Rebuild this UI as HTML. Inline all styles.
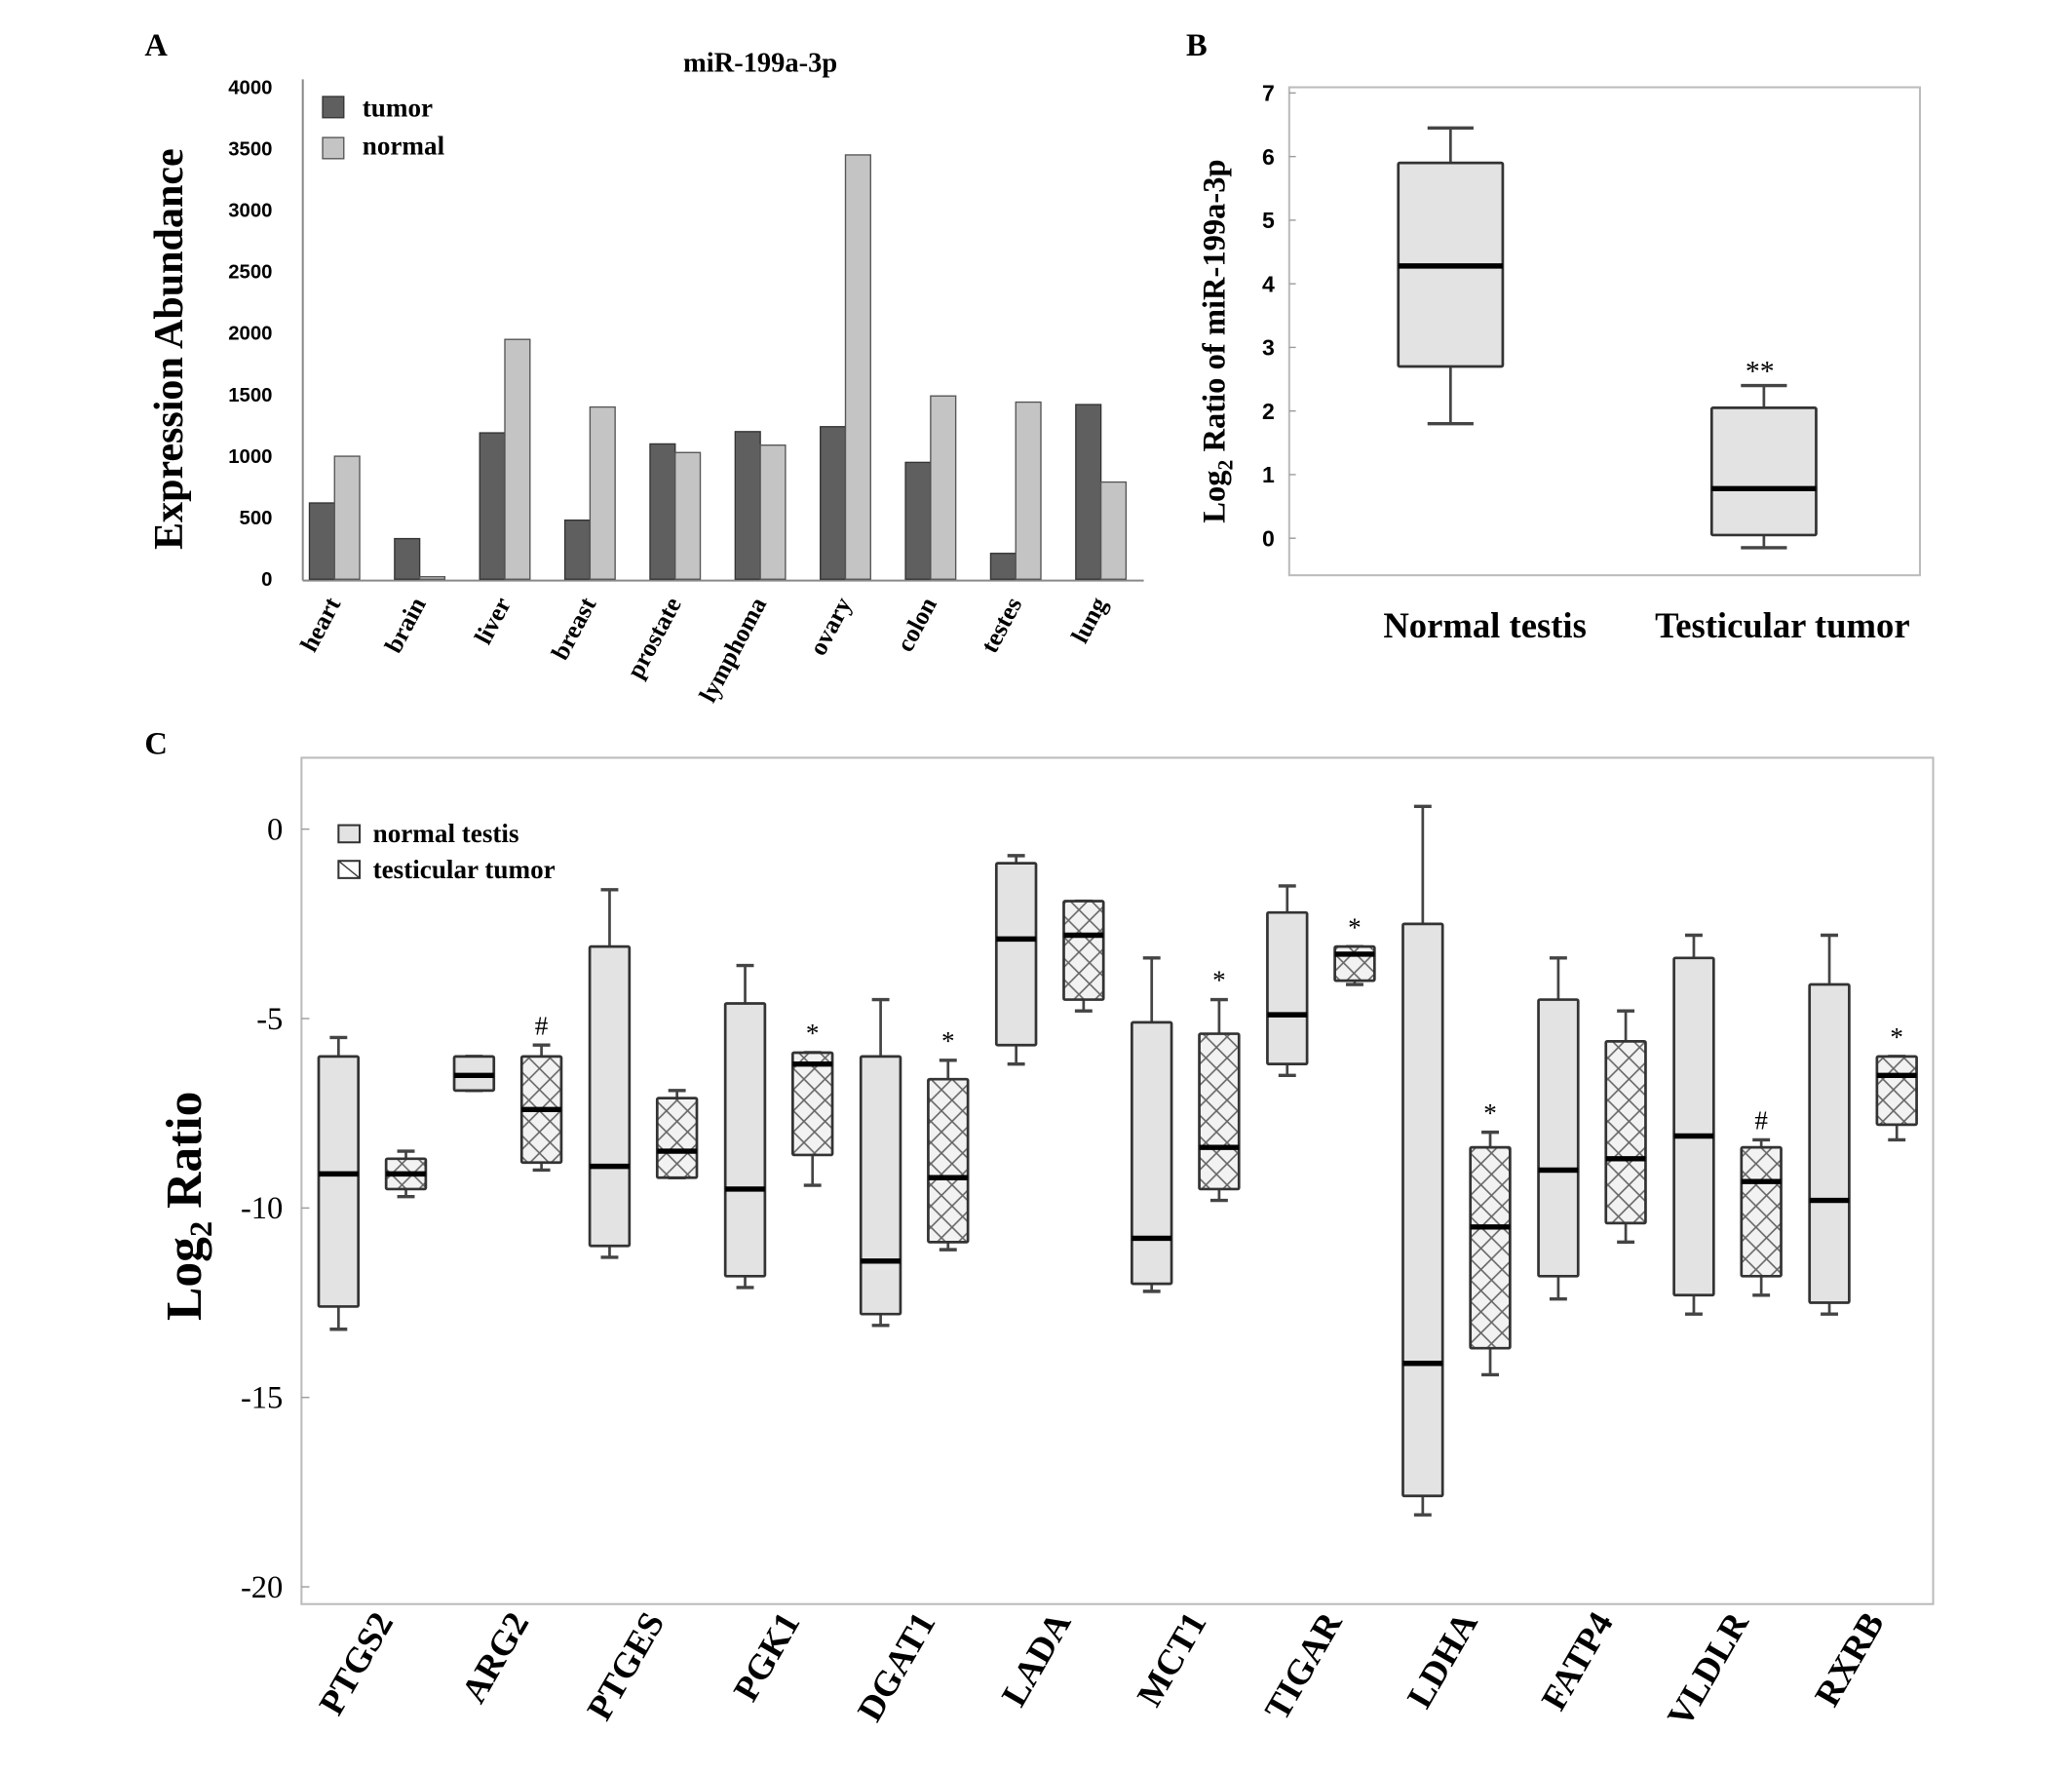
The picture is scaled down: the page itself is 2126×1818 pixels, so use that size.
<!DOCTYPE html>
<html><head><meta charset="utf-8"><style>
html,body{margin:0;padding:0;background:#fff;}
svg{display:block;font-family:"Liberation Serif",serif;}
</style></head><body>
<svg id="fig" width="2126" height="1818" viewBox="0 0 1567 1340">
<defs>
<pattern id="hatch" width="16" height="16" patternUnits="userSpaceOnUse">
<rect width="16" height="16" fill="#f2f2f2"/>
<path d="M0,0 L16,16 M16,0 L0,16" stroke="#666" stroke-width="1.2"/>
</pattern>
</defs>
<g id="A"></g>
<g id="B"></g>
<g id="C"></g>
</svg>
<script>
// Panel A data
const aCategories=["heart","brain","liver","breast","prostate","lymphoma","ovary","colon","testes","lung"];
const aTumor=[620,330,1190,480,1100,1200,1240,950,210,1420];
const aNormal=[1000,20,1950,1400,1030,1090,3450,1490,1440,790];
const aTicks=[0,500,1000,1500,2000,2500,3000,3500,4000];
// Panel B data
const bCategories=["Normal testis","Testicular tumor"];
const bStats=[[1.8,2.7,4.28,5.9,6.45],[-0.15,0.05,0.78,2.05,2.4]];
const bTicks=[0,1,2,3,4,5,6,7];
// Panel C data
const cGenes=["PTGS2","ARG2","PTGES","PGK1","DGAT1","LADA","MCT1","TIGAR","LDHA","FATP4","VLDLR","RXRB"];
const cNormal=[[-13.2,-12.6,-9.1,-6.0,-5.5],[-6.9,-6.9,-6.5,-6.0,-6.0],[-11.3,-11.0,-8.9,-3.1,-1.6],[-12.1,-11.8,-9.5,-4.6,-3.6],[-13.1,-12.8,-11.4,-6.0,-4.5],[-6.2,-5.7,-2.9,-0.9,-0.7],[-12.2,-12.0,-10.8,-5.1,-3.4],[-6.5,-6.2,-4.9,-2.2,-1.5],[-18.1,-17.6,-14.1,-2.5,0.6],[-12.4,-11.8,-9.0,-4.5,-3.4],[-12.8,-12.3,-8.1,-3.4,-2.8],[-12.8,-12.5,-9.8,-4.1,-2.8]];
const cTumor=[[-9.7,-9.5,-9.1,-8.7,-8.5],[-9.0,-8.8,-7.4,-6.0,-5.7],[-9.2,-9.2,-8.5,-7.1,-6.9],[-9.4,-8.6,-6.2,-5.9,-5.9],[-11.1,-10.9,-9.2,-6.6,-6.1],[-4.8,-4.5,-2.8,-1.9,-1.9],[-9.8,-9.5,-8.4,-5.4,-4.5],[-4.1,-4.0,-3.3,-3.1,-3.1],[-14.4,-13.7,-10.5,-8.4,-8.0],[-10.9,-10.4,-8.7,-5.6,-4.8],[-12.3,-11.8,-9.3,-8.4,-8.2],[-8.2,-7.8,-6.5,-6.0,-6.0]];
const cMarks=["","#","","*","*","","*","*","*","","#","*"];
const cTicks=[0,-5,-10,-15,-20];

const NS="http://www.w3.org/2000/svg";
function mk(parent,tag,attrs,text){const e=document.createElementNS(NS,tag);for(const k in attrs)e.setAttribute(k,attrs[k]);if(text!==undefined)e.textContent=text;parent.appendChild(e);return e;}

// ---------- Panel A ----------
const A=document.getElementById('A');
const ay=v=>438-v*372/4000;
const ax=i=>253+i*64.4;
let t=mk(A,'text',{x:118,y:42,'font-size':24,'font-weight':'bold','text-anchor':'middle'},'A');


t=mk(A,'text',{x:575,y:54,'font-size':21,'font-weight':'bold','text-anchor':'middle'},'miR-199a-3p');


let l=mk(A,'line',{x1:229,y1:60,x2:229,y2:439,stroke:'#888','stroke-width':1.5});


l=mk(A,'line',{x1:229,y1:439,x2:865,y2:439,stroke:'#888','stroke-width':1.5});


aTicks.forEach(v=>{
  const e=mk(A,'text',{x:206,y:ay(v)+5,'font-size':15,'font-weight':'bold','text-anchor':'end','font-family':'Liberation Sans, sans-serif'},String(v));
  
  
});
t=mk(A,'text',{x:0,y:0,'font-size':31,'font-weight':'bold','text-anchor':'middle',transform:'translate(138,264) rotate(-90)'},'Expression Abundance');


aCategories.forEach((c,i)=>{
  const cx=ax(i);
  const b1=mk(A,'rect',{x:cx-19,y:ay(aTumor[i]),width:19,height:438-ay(aTumor[i]),fill:'#5f5f5f',stroke:'#333','stroke-width':1});
  
  
  const b2=mk(A,'rect',{x:cx,y:ay(aNormal[i]),width:19,height:438-ay(aNormal[i]),fill:'#c4c4c4',stroke:'#555','stroke-width':1});
  
  
  const lb=mk(A,'text',{x:0,y:0,'font-size':19,'font-weight':'bold','text-anchor':'end',transform:`translate(${cx+5},${456}) rotate(-62)`},c);
  
  
});
let r=mk(A,'rect',{x:244,y:73,width:16,height:16,fill:'#5f5f5f',stroke:'#333'});


t=mk(A,'text',{x:274,y:88,'font-size':20,'font-weight':'bold'},'tumor');


r=mk(A,'rect',{x:244,y:104,width:16,height:16,fill:'#c4c4c4',stroke:'#555'});


t=mk(A,'text',{x:274,y:117,'font-size':20,'font-weight':'bold'},'normal');



// ---------- Panel B ----------
const B=document.getElementById('B');
const by=v=>407-v*48.1;
const bx=[1097,1334];
t=mk(B,'text',{x:905,y:42,'font-size':24,'font-weight':'bold','text-anchor':'middle'},'B');


r=mk(B,'rect',{x:975,y:66,width:477,height:369,fill:'none',stroke:'#bbb','stroke-width':1.5});


bTicks.forEach(v=>{
  const e=mk(B,'text',{x:964,y:by(v)+6,'font-size':17,'font-weight':'bold','text-anchor':'end','font-family':'Liberation Sans, sans-serif'},String(v));
  
  
  mk(B,'line',{x1:975,y1:by(v),x2:980,y2:by(v),stroke:'#999'});
});
t=mk(B,'text',{x:0,y:0,'font-size':24,'font-weight':'bold','text-anchor':'middle',transform:'translate(926,258) rotate(-90)'});


t.appendChild(document.createTextNode('Log'));
mk(t,'tspan',{'font-size':16,dy:6},'2');
mk(t,'tspan',{dy:-6},' Ratio of miR-199a-3p');
function box(g,cx,w,s,fill,name,scale){
  const [lo,q1,md,q3,hi]=s.map(scale);
  const grp=mk(g,'g',{});
  
  
  mk(grp,'line',{x1:cx,y1:hi,x2:cx,y2:q3,stroke:'#444','stroke-width':2});
  mk(grp,'line',{x1:cx,y1:q1,x2:cx,y2:lo,stroke:'#444','stroke-width':2});
  mk(grp,'line',{x1:cx-w*0.22,y1:hi,x2:cx+w*0.22,y2:hi,stroke:'#444','stroke-width':2.5});
  mk(grp,'line',{x1:cx-w*0.22,y1:lo,x2:cx+w*0.22,y2:lo,stroke:'#444','stroke-width':2.5});
  mk(grp,'rect',{x:cx-w/2,y:q3,width:w,height:Math.max(q1-q3,1),fill:fill,stroke:'#333','stroke-width':2,rx:1});
  mk(grp,'line',{x1:cx-w/2,y1:md,x2:cx+w/2,y2:md,stroke:'#000','stroke-width':4});
  return grp;
}
bStats.forEach((s,i)=>{box(B,bx[i],79,s,'#e3e3e3','box-'+(i?'tumor':'normal'),by);
  const e=mk(B,'text',{x:[1123,1348][i],y:482,'font-size':27,'font-weight':'bold','text-anchor':'middle'},bCategories[i]);
  
  
});
t=mk(B,'text',{x:1331,y:288,'font-size':22,'text-anchor':'middle'},'**');



// ---------- Panel C ----------
const C=document.getElementById('C');
const cy=v=>627-v*28.65;
const cx=i=>256+i*102.5;
t=mk(C,'text',{x:118,y:570,'font-size':24,'font-weight':'bold','text-anchor':'middle'},'C');


r=mk(C,'rect',{x:228,y:573,width:1234,height:640,fill:'none',stroke:'#bbb','stroke-width':1.5});


cTicks.forEach(v=>{
  const e=mk(C,'text',{x:214,y:cy(v)+8,'font-size':24,'text-anchor':'end'},String(v));
  
  
  mk(C,'line',{x1:228,y1:cy(v),x2:234,y2:cy(v),stroke:'#999'});
});
t=mk(C,'text',{x:0,y:0,'font-size':38,'font-weight':'bold','text-anchor':'middle',transform:'translate(152,912) rotate(-90)'});


t.appendChild(document.createTextNode('Log'));
mk(t,'tspan',{'font-size':24,dy:8},'2');
mk(t,'tspan',{dy:-8},' Ratio');
cGenes.forEach((g,i)=>{
  const x=cx(i);
  box(C,x,30,cNormal[i],'#e3e3e3','box-normal-'+g,cy);
  box(C,x+51,30,cTumor[i],'url(#hatch)','box-tumor-'+g,cy);
  if(cMarks[i]){
    const e=mk(C,'text',{x:x+51,y:cy(cTumor[i][4])-8,'font-size':20,'text-anchor':'middle'},cMarks[i]);
    
    
  }
  const lb=mk(C,'text',{x:0,y:0,'font-size':27,'font-weight':'bold','text-anchor':'end',transform:`translate(${x+42},${1226}) rotate(-60)`},g);
  
  
});
r=mk(C,'rect',{x:256,y:624,width:16,height:13,fill:'#e3e3e3',stroke:'#333','stroke-width':1.5});


t=mk(C,'text',{x:282,y:637,'font-size':20,'font-weight':'bold'},'normal testis');


r=mk(C,'rect',{x:256,y:651,width:16,height:13,fill:'#fff',stroke:'#333','stroke-width':1.5});


mk(C,'line',{x1:256,y1:651,x2:272,y2:664,stroke:'#333'});
t=mk(C,'text',{x:282,y:664,'font-size':20,'font-weight':'bold'},'testicular tumor');


</script>
</body></html>
